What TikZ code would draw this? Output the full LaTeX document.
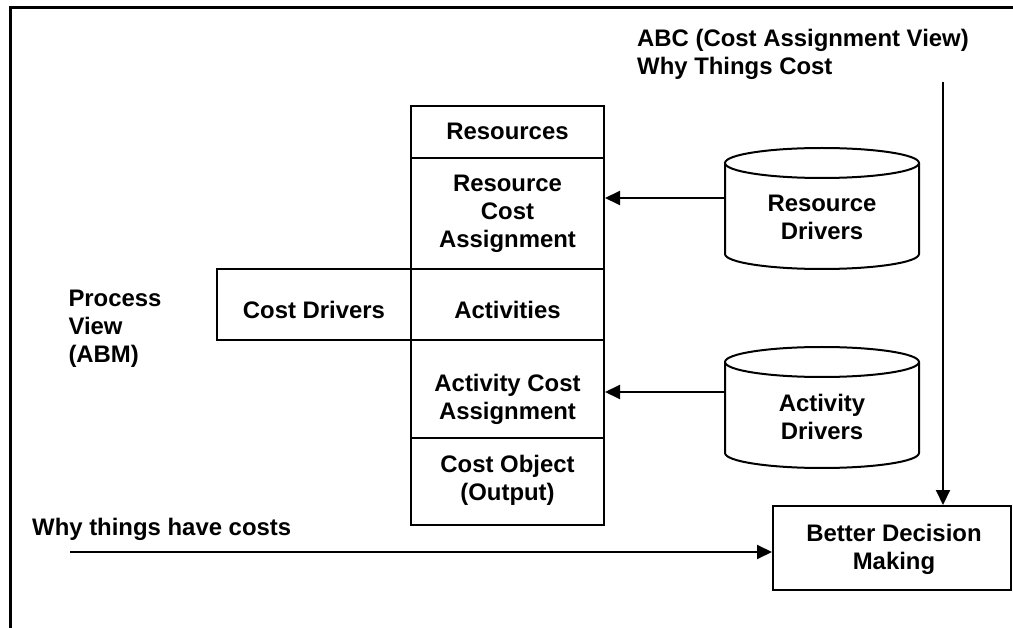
\documentclass[tikz,border=0pt]{standalone}
\usepackage{fontspec}
\setmainfont{Liberation Sans}
\usetikzlibrary{arrows.meta,calc}
\begin{document}
\begin{tikzpicture}[x=1pt,y=-1pt,
  box/.style={draw, line width=2pt, inner sep=0pt},
  lbl/.style={font=\bfseries\fontsize{23.9}{28}\selectfont, align=center, text depth=0pt, inner sep=0pt},
  lbll/.style={lbl, align=left},
  arr/.style={line width=2pt, -{Triangle[length=15pt,width=14pt]}},
  cyl/.style={line width=2pt, fill=white}
]
\useasboundingbox (0,0) rectangle (1013,628);
\fill[white] (0,0) rectangle (1013,628);
% outer frame
\draw[line width=3pt] (10,628) -- (10,8) -- (1013,8);

% central column
\node[box, minimum width=193pt, minimum height=52pt]  (res) at (507.5,132) {};
\node[box, minimum width=193pt, minimum height=111pt] (rca) at (507.5,213.5) {};
\node[box, minimum width=193pt, minimum height=71pt]  (act) at (507.5,304.5) {};
\node[box, minimum width=193pt, minimum height=98pt]  (aca) at (507.5,389) {};
\node[box, minimum width=193pt, minimum height=87pt]  (cob) at (507.5,481.5) {};
\node[box, minimum width=194pt, minimum height=71pt]  (cdr) at (314,304.5) {};
\node[box, minimum width=238pt, minimum height=84pt]  (bdm) at (892,548) {};

\node[lbl] (tres) at (507.5,131.7) {Resources};
\node[lbl] (trca) at (507.5,211.3) {Resource\\Cost\\Assignment};
\node[lbl] (tact) at (507.5,310) {Activities};
\node[lbl] (taca) at (507.5,396.5) {Activity Cost\\Assignment};
\node[lbl] (tcob) at (507.5,477.5) {Cost Object\\(Output)};
\node[lbl] (tcdr) at (314,309.5) {Cost Drivers};
\node[lbl] (tbdm) at (894,546.7) {Better Decision\\Making};

% cylinders
\draw[cyl] (725,163) -- (725,254) arc[start angle=180, end angle=0, x radius=97, y radius=15] -- (919,163);
\draw[cyl] (822,163) ellipse[x radius=97, y radius=15];
\node[minimum width=194pt, minimum height=121pt, inner sep=0pt] (rdc) at (822,208.5) {};
\node[lbl] (trdc) at (822,217.5) {Resource\\Drivers};

\draw[cyl] (725,362) -- (725,453) arc[start angle=180, end angle=0, x radius=97, y radius=15] -- (919,362);
\draw[cyl] (822,362) ellipse[x radius=97, y radius=15];
\node[minimum width=194pt, minimum height=121pt, inner sep=0pt] (adc) at (822,407.5) {};
\node[lbl] (tadc) at (822,416.7) {Activity\\Drivers};

% free labels
\node[lbll, anchor=west] (tabc) at (637,51.7) {ABC (Cost Assignment View)\\Why Things Cost};
\node[lbll, anchor=west] (tpv) at (68.3,325.8) {Process\\View\\(ABM)};
\node[lbll, anchor=base west] (twhy) at (32,535) {Why things have costs};

% connectors
\coordinate (rdA) at (725,198);
\draw[arr] (rdA) -- (rdA -| rca.east);
\coordinate (adA) at (725,392);
\draw[arr] (adA) -- (adA -| aca.east);
\coordinate (abcA) at (943,82);
\draw[arr] (abcA) -- (abcA |- bdm.north);
\coordinate (whyA) at (70,552);
\draw[arr] (whyA) -- (whyA -| bdm.west);
\end{tikzpicture}
\end{document}
